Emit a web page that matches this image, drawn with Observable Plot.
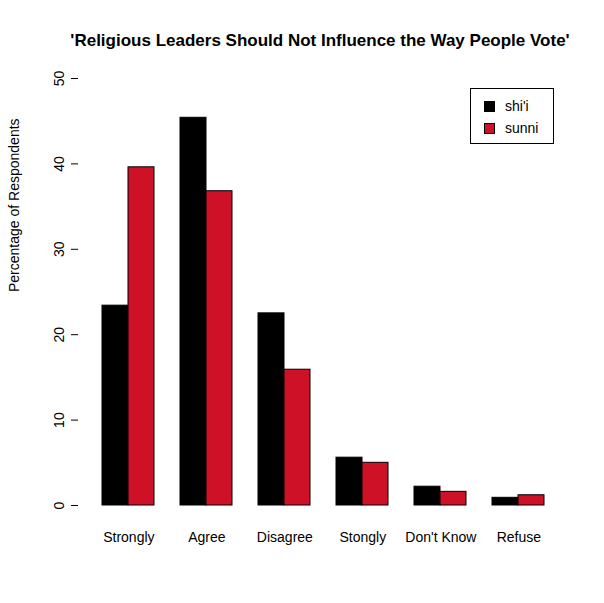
<!DOCTYPE html>
<html><head><meta charset="utf-8">
<script src="https://cdn.jsdelivr.net/npm/d3@7"></script>
<script src="https://cdn.jsdelivr.net/npm/@observablehq/plot@0.6"></script>
<style>
body{margin:0;background:#fff;font-family:"Liberation Sans",Arial,sans-serif}
#wrap{position:relative;width:604px;height:603px}
#title{position:absolute;top:31px;left:0;width:640px;text-align:center;font-weight:bold;font-size:17px}
#legend{position:absolute;left:470px;top:88px;width:84px;height:56px;border:1px solid #000;font-size:14px;box-sizing:border-box}
.li{position:absolute;left:13px;display:flex;align-items:center}
.sw{width:11px;height:11px;border:1px solid #000;margin-right:10px;box-sizing:border-box}
</style></head><body>
<div id="wrap"><div id="chart"></div>
<div id="title">'Religious Leaders Should Not Influence the Way People Vote'</div>
<div id="legend"><div class="li" style="top:9px"><div class="sw" style="background:#000"></div>shi'i</div>
<div class="li" style="top:31px"><div class="sw" style="background:#CE1126"></div>sunni</div></div>
</div>
<script>
const categories=["Strongly","Agree","Disagree","Stongly","Don't Know","Refuse"];
const groups=["shi'i","sunni"];
const shii=[23.4,45.4,22.5,5.6,2.2,0.9];
const sunni=[39.6,36.8,15.9,5.0,1.6,1.2];
const colors=["#000000","#CE1126"];
const data=[];
categories.forEach((c,i)=>{data.push({c,g:groups[0],v:shii[i],k:c+"|0"});data.push({c,g:groups[1],v:sunni[i],k:c+"|1"});});
const domain=[];
categories.forEach((c,i)=>{domain.push("gap"+i,c+"|0",c+"|1");});
const unit=(550-69)/18;
const plot=Plot.plot({
  width:604,height:603,marginLeft:78,marginRight:54,marginTop:78,marginBottom:98,
  style:{fontFamily:"Liberation Sans, Arial, sans-serif",fontSize:"14px",color:"#000"},
  x:{type:"band",domain,range:[69,550],padding:0,axis:null},
  y:{domain:[0,50],axis:null},
  color:{domain:groups,range:colors},
  marks:[
    Plot.axisY({ticks:[0,10,20,30,40,50],tickSize:7,tickPadding:8,tickRotate:-90,line:true,fontSize:14,label:null}),
    Plot.text(["Percentage of Respondents"],{frameAnchor:"left",dx:-64,rotate:-90,fontSize:14}),
    Plot.barY(data,{x:"k",y:"v",fill:"g",stroke:"#000",strokeWidth:1}),
    Plot.text(categories,{x:d=>d+"|0",y:0,dx:unit/2,dy:32,text:d=>d,fontSize:14})
  ]
});
document.getElementById("chart").appendChild(plot);
</script></body></html>
